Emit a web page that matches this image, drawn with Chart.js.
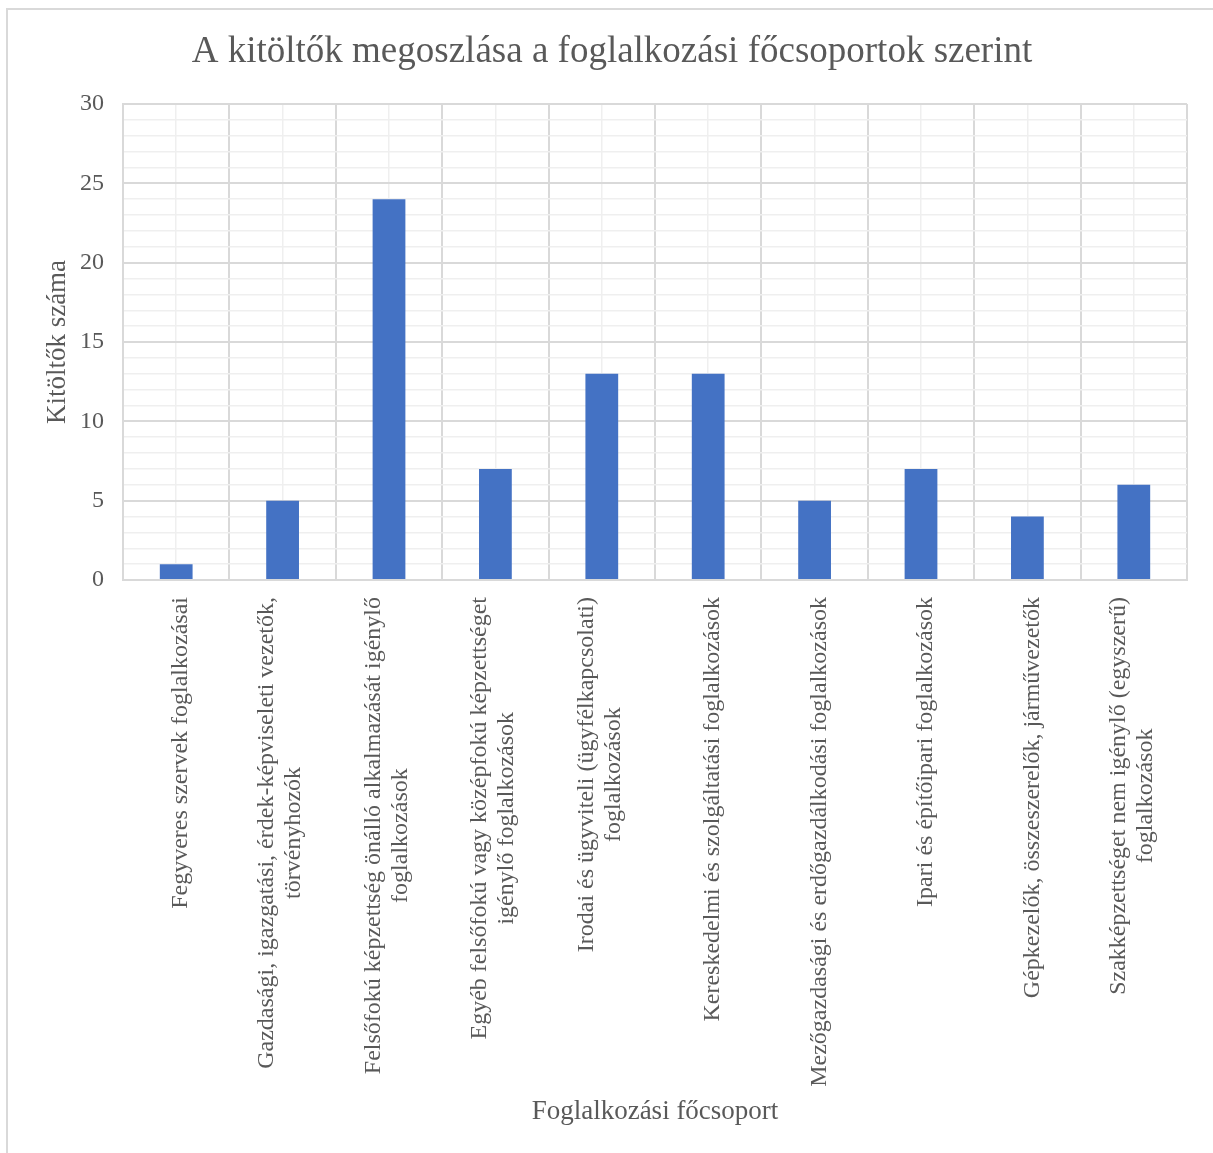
<!DOCTYPE html>
<html>
<head>
<meta charset="utf-8">
<script src="https://cdn.jsdelivr.net/npm/chart.js@4.4.1/dist/chart.umd.min.js"></script>
<style>
  html, body { margin: 0; padding: 0; background: #ffffff; overflow: hidden; }
  #frame { position: absolute; left: 6px; top: 8px; width: 1400px; height: 1400px; border-left: 2px solid #d9d9d9; border-top: 2px solid #d9d9d9; }
  #wrap { position: absolute; left: 0; top: 0; width: 1213px; height: 1153px; }
</style>
</head>
<body>
<div id="frame"></div>
<div id="wrap"><canvas id="c" width="1213" height="1153"></canvas></div>
<script>
const chartTitle = "A kitöltők megoszlása a foglalkozási főcsoportok szerint";
const xAxisTitle = "Foglalkozási főcsoport";
const yAxisTitle = "Kitöltők száma";
const categories = [
  ["Fegyveres szervek foglalkozásai"],
  ["Gazdasági, igazgatási, érdek-képviseleti vezetők,", "törvényhozók"],
  ["Felsőfokú képzettség önálló alkalmazását igénylő", "foglalkozások"],
  ["Egyéb felsőfokú vagy középfokú képzettséget", "igénylő foglalkozások"],
  ["Irodai és ügyviteli (ügyfélkapcsolati)", "foglalkozások"],
  ["Kereskedelmi és szolgáltatási foglalkozások"],
  ["Mezőgazdasági és erdőgazdálkodási foglalkozások"],
  ["Ipari és építőipari foglalkozások"],
  ["Gépkezelők, összeszerelők, járművezetők"],
  ["Szakképzettséget nem igénylő (egyszerű)", "foglalkozások"]
];
const counts = [1, 5, 24, 7, 13, 13, 5, 7, 4, 6];
const yMin = 0, yMax = 30, yMajorStep = 5, yMinorStep = 1;

const SERIF = "'Liberation Serif', 'Times New Roman', serif";
const TEXT = '#595959';
const MAJOR = '#d9d9d9';
const MINOR = '#efefef';
const TICK_FONT = 24;
const LABEL_TOP_PAD = 17;
const LABEL_LINE_H = 27;

const xLabelPlugin = {
  id: 'xLabels',
  afterDraw(chart) {
    const xs = chart.scales.x;
    const ctx = chart.ctx;
    ctx.save();
    ctx.font = TICK_FONT + 'px ' + SERIF;
    ctx.fillStyle = TEXT;
    ctx.textAlign = 'center';
    ctx.textBaseline = 'middle';
    categories.forEach((lines, i) => {
      const n = lines.length;
      const x = xs.getPixelForTick(i) + (n === 1 ? 5 : -2);
      const maxW = Math.max(...lines.map(l => ctx.measureText(l).width));
      const cy = chart.chartArea.bottom + LABEL_TOP_PAD + maxW / 2;
      ctx.save();
      ctx.translate(x, cy);
      ctx.rotate(-Math.PI / 2);
      lines.forEach((l, j) => ctx.fillText(l, 0, (j - (n - 1) / 2) * LABEL_LINE_H));
      ctx.restore();
    });
    ctx.restore();
  }
};

new Chart(document.getElementById('c'), {
  type: 'bar',
  data: {
    labels: categories,
    datasets: [{
      data: counts,
      backgroundColor: '#4472c4',
      borderWidth: 0,
      categoryPercentage: 1,
      barPercentage: 0.308,
      xAxisID: 'x',
      yAxisID: 'y'
    }]
  },
  plugins: [xLabelPlugin],
  options: {
    responsive: false,
    animation: false,
    layout: { padding: { left: 37, right: 26, top: 0, bottom: 0 } },
    plugins: {
      legend: { display: false },
      tooltip: { enabled: false },
      title: {
        display: true,
        text: chartTitle,
        color: TEXT,
        font: { family: SERIF, size: 37, weight: 'normal' },
        padding: { top: 30, bottom: 29.6 }
      }
    },
    scales: {
      x: {
        type: 'category',
        position: 'bottom',
        offset: true,
        grid: { offset: true, color: MAJOR, lineWidth: 2, drawTicks: false },
        border: { display: true, color: MAJOR, width: 2 },
        ticks: { display: false },
        title: {
          display: true,
          text: xAxisTitle,
          color: TEXT,
          font: { family: SERIF, size: 27, weight: 'normal' },
          padding: { top: 0, bottom: 25 }
        },
        afterFit(s) { s.height = 573; }
      },
      x2: {
        type: 'category',
        position: 'bottom',
        offset: true,
        grid: { offset: false, color: MINOR, lineWidth: 1.5, drawTicks: false },
        border: { display: false },
        ticks: { display: false },
        afterFit(s) { s.height = 0; }
      },
      y: {
        type: 'linear',
        min: yMin,
        max: yMax,
        grid: {
          drawTicks: false,
          color: c => (c.tick && c.tick.value % yMajorStep === 0) ? MAJOR : MINOR,
          lineWidth: c => (c.tick && c.tick.value % yMajorStep === 0) ? 2 : 1.5
        },
        border: { display: true, color: MAJOR, width: 2 },
        ticks: {
          stepSize: yMinorStep,
          autoSkip: false,
          padding: 19,
          color: TEXT,
          font: { family: SERIF, size: 24 },
          callback: v => (v % yMajorStep === 0 ? String(v) : '')
        },
        title: {
          display: true,
          text: yAxisTitle,
          color: TEXT,
          font: { family: SERIF, size: 27, weight: 'normal' },
          padding: { top: 5, bottom: 0 }
        },
        afterFit(s) { s.width = 86; }
      }
    }
  }
});
</script>
</body>
</html>
